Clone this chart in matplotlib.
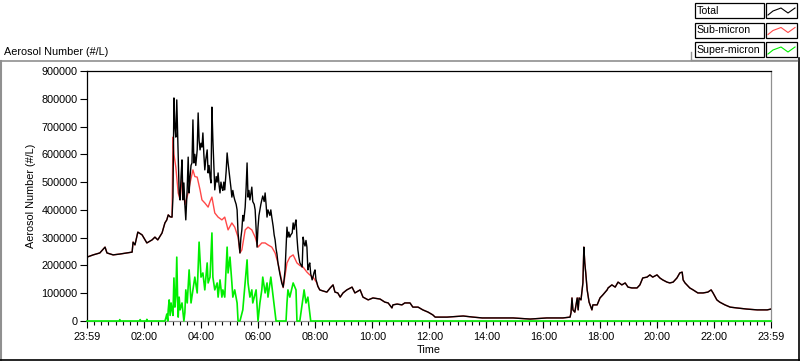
import matplotlib
matplotlib.use("Agg")
import matplotlib.pyplot as plt
from matplotlib.patches import Rectangle
from matplotlib.lines import Line2D

plt.rcParams['font.family'] = ['Liberation Sans', 'DejaVu Sans']

# ---------------- data (minutes after 23:59) ----------------
total_t = [0, 13, 27, 38, 42, 55, 69, 84, 95, 97, 101, 107, 116, 126, 137, 143, 149, 158, 164, 168,
           171, 175, 179, 181, 183, 185, 187, 189, 192, 194, 196, 198, 200, 202, 204, 206, 208, 211,
           213, 215, 217, 219, 221, 223, 225, 227, 229, 232, 234, 236, 238, 240, 242, 244, 246, 248,
           250, 253, 255, 257, 259, 261, 263, 265, 267, 269, 272, 274, 276, 278, 280, 282, 284, 286,
           288, 290, 293, 295, 297, 299, 301, 303, 305, 307, 309, 311, 314, 316, 318, 320, 322, 324,
           326, 328, 330, 333, 335, 337, 339, 341, 343, 345, 347, 349, 352, 354, 356, 358, 360, 362,
           364, 366, 368, 370, 373, 375, 377, 379, 381, 383, 385, 387, 389, 392, 394, 396, 398, 400,
           402, 406, 410, 413, 415, 417, 419, 421, 423, 425, 427, 429, 432, 434, 436, 438, 440, 442,
           444, 446, 448, 451, 453, 455, 457, 459, 461, 463, 465, 467, 469, 471, 474, 476, 478, 480,
           482, 484, 486, 490, 497, 505, 512, 518, 522, 528, 533, 539, 547, 558, 564, 575, 581, 592,
           602, 617, 627, 634, 642, 644, 653, 663, 669, 680, 686, 697, 707, 718, 728, 733, 758, 792,
           813, 832, 863, 897, 933, 968, 1002, 1017, 1019, 1021, 1023, 1027, 1032, 1034, 1036, 1040,
           1044, 1046, 1048, 1050, 1053, 1057, 1063, 1065, 1074, 1080, 1086, 1095, 1097, 1105, 1112,
           1118, 1126, 1133, 1139, 1147, 1158, 1164, 1170, 1179, 1185, 1191, 1200, 1206, 1212, 1221,
           1227, 1234, 1242, 1248, 1253, 1255, 1259, 1269, 1276, 1286, 1297, 1307, 1314, 1318, 1326,
           1332, 1343, 1354, 1368, 1389, 1411, 1432, 1440]
total_v = [230000, 238000, 245000, 266000, 245000, 238000, 241000, 245000, 248000, 284000, 274000,
           320000, 310000, 281000, 292000, 302000, 292000, 317000, 353000, 364000, 382000, 375000,
           374000, 446000, 803000, 700000, 662000, 796000, 600000, 461000, 436000, 520000, 580000,
           436000, 497000, 420000, 364000, 480000, 590000, 461000, 520000, 560000, 569000, 724000,
           569000, 600000, 560000, 616000, 749000, 650000, 616000, 640000, 626000, 677000, 600000,
           544000, 580000, 616000, 533000, 560000, 520000, 497000, 770000, 652000, 560000, 472000,
           520000, 500000, 533000, 490000, 461000, 500000, 480000, 470000, 500000, 472000, 540000,
           605000, 569000, 540000, 508000, 480000, 446000, 470000, 450000, 436000, 420000, 400000,
           317000, 280000, 245000, 300000, 328000, 380000, 360000, 410000, 480000, 569000, 446000,
           470000, 436000, 460000, 482000, 430000, 420000, 400000, 330000, 266000, 338000, 380000,
           400000, 420000, 436000, 450000, 430000, 461000, 420000, 374000, 400000, 390000, 380000,
           400000, 374000, 340000, 310000, 292000, 260000, 240000, 209000, 170000, 137000, 122000,
           150000, 184000, 260000, 338000, 302000, 320000, 302000, 310000, 317000, 353000, 330000,
           350000, 364000, 302000, 256000, 230000, 210000, 200000, 194000, 302000, 280000, 270000,
           290000, 266000, 184000, 200000, 209000, 170000, 148000, 160000, 175000, 184000, 150000,
           137000, 125000, 112000, 108000, 104000, 119000, 130000, 104000, 101000, 86000, 101000,
           112000, 122000, 101000, 112000, 86000, 76000, 83000, 79000, 68000, 65000, 47000, 58000,
           61000, 58000, 65000, 65000, 50000, 50000, 40000, 32000, 22000, 14000, 14000, 18000,
           14000, 11000, 11000, 11000, 7000, 11000, 11000, 14000, 30000, 83000, 40000, 32000,
           83000, 40000, 83000, 76000, 137000, 266000, 209000, 173000, 112000, 68000, 40000, 58000,
           58000, 83000, 94000, 112000, 119000, 130000, 122000, 140000, 130000, 137000, 122000,
           119000, 119000, 130000, 155000, 158000, 166000, 158000, 166000, 155000, 148000, 140000,
           137000, 140000, 155000, 173000, 176000, 148000, 137000, 119000, 112000, 101000, 101000,
           104000, 112000, 101000, 76000, 68000, 58000, 50000, 47000, 43000, 40000, 40000, 43000]

# sub-micron values where they differ from the total (03:00 - 08:00)
sub_busy_t = [181, 183, 187, 192, 196, 200, 206, 213, 217, 223, 227, 232, 238, 242, 248, 255, 259,
              263, 269, 276, 284, 290, 297, 305, 311, 318, 322, 326, 333, 339, 347, 354, 360, 368,
              375, 381, 389, 396, 402, 413, 421, 427, 434, 442, 448, 455, 463, 469, 476, 484, 486]
sub_busy_v = [662000, 600000, 554000, 461000, 436000, 515000, 420000, 461000, 497000, 544000,
              520000, 518000, 472000, 436000, 425000, 410000, 430000, 446000, 389000, 374000,
              364000, 374000, 328000, 353000, 338000, 302000, 245000, 256000, 328000, 338000,
              328000, 302000, 266000, 281000, 281000, 274000, 266000, 245000, 209000, 120000,
              209000, 230000, 238000, 209000, 200000, 194000, 176000, 166000, 158000, 137000,
              125000]

super_t = [0, 68, 69, 70, 110, 112, 113, 125, 126, 127, 164, 166, 168, 170, 171, 173, 175, 177,
           179, 181, 183, 185, 187, 189, 191, 192, 194, 196, 200, 204, 206, 208, 211, 215, 219, 223,
           227, 232, 236, 240, 244, 248, 253, 255, 259, 263, 265, 269, 274, 276, 280, 284, 286, 290,
           295, 297, 301, 305, 307, 311, 316, 318, 322, 328, 337, 339, 343, 347, 349, 356, 360, 364,
           368, 370, 375, 379, 381, 387, 392, 398, 419, 421, 423, 427, 434, 440, 442, 448, 455, 457,
           461, 465, 471, 1440]
super_v = [0, 0, 5000, 0, 0, 5000, 0, 0, 6000, 0, 0, 11000, 25000, 0, 40000, 76000, 20000, 65000,
           40000, 20000, 155000, 50000, 90000, 230000, 60000, 14000, 86000, 40000, 65000, 0, 30000,
           112000, 65000, 184000, 65000, 112000, 158000, 101000, 284000, 158000, 173000, 112000,
           209000, 137000, 158000, 317000, 158000, 112000, 137000, 86000, 148000, 86000, 112000,
           86000, 266000, 173000, 230000, 137000, 86000, 112000, 65000, 0, 0, 40000, 220000, 137000,
           86000, 112000, 65000, 112000, 0, 65000, 112000, 158000, 101000, 137000, 86000, 158000,
           86000, 0, 0, 65000, 112000, 86000, 137000, 112000, 0, 0, 86000, 112000, 65000, 86000, 0,
           0]

tick_minutes = [0, 121, 241, 361, 481, 601, 721, 841, 961, 1081, 1201, 1321, 1440]
tick_labels = ["23:59", "02:00", "04:00", "06:00", "08:00", "10:00", "12:00", "14:00",
               "16:00", "18:00", "20:00", "22:00", "23:59"]
y_ticks = [0, 100000, 200000, 300000, 400000, 500000, 600000, 700000, 800000, 900000]
series_names = ["Total", "Sub-micron", "Super-micron"]
series_colors = ["#000000", "#ff4848", "#00ee00"]

# build sub-micron series: equal to total outside the busy window
t0, t1 = sub_busy_t[0], sub_busy_t[-1]
sub_t = [t for t in total_t if t < t0] + sub_busy_t + [t for t in total_t if t > t1]
sub_v = ([v for t, v in zip(total_t, total_v) if t < t0] + sub_busy_v +
         [v for t, v in zip(total_t, total_v) if t > t1])

# ---------------- figure ----------------
W, H = 800, 361
fig = plt.figure(figsize=(W / 100, H / 100), dpi=100)
fig.patch.set_facecolor("white")

L, R, T, B = 87, 771, 71, 321
ax = fig.add_axes([L / W, 1 - B / H, (R - L) / W, (B - T) / H])
lw = 1.0
ax.plot(sub_t, sub_v, color=series_colors[1], lw=lw, zorder=2)
ax.plot(total_t, total_v, color=series_colors[0], lw=lw, zorder=3)
ax.plot(super_t, super_v, color=series_colors[2], lw=1.2, zorder=4, clip_on=False)
ax.set_xlim(0, 1440)
ax.set_ylim(0, 900000)

fs = 7.8
ax.set_yticks(y_ticks)
ax.set_yticklabels([str(v) for v in y_ticks], fontsize=fs)
ax.set_xticks(tick_minutes)
ax.set_xticklabels(tick_labels, fontsize=fs)
ax.set_xticks(list(range(15, 1440, 15)), minor=True)
ax.tick_params(axis="y", length=5, width=0.8, pad=2, direction="out")
ax.tick_params(axis="x", which="major", length=5, width=0.8, pad=3, direction="out")
ax.tick_params(axis="x", which="minor", length=3, width=0.8, direction="out")
for side in ["top", "left"]:
    ax.spines[side].set_color("black")
    ax.spines[side].set_linewidth(0.9)
for side in ["right", "bottom"]:
    ax.spines[side].set_color("#909090")
    ax.spines[side].set_linewidth(0.9)
ax.set_xlabel("Time", fontsize=fs, labelpad=2)
ax.set_ylabel("Aerosol Number (#/L)", fontsize=fs, labelpad=4)

# ---------------- overlay for panel / legend decoration ----------------
ov = fig.add_axes([0, 0, 1, 1], zorder=-1)
ov.set_xlim(0, W)
ov.set_ylim(H, 0)
ov.axis("off")
ov.add_line(Line2D([0, 797], [61, 61], color="#909090", lw=1.2))
ov.add_line(Line2D([1, 1], [61, 360], color="#909090", lw=1.5))
ov.add_line(Line2D([0, 800], [359.5, 359.5], color="black", lw=1.2))
ov.add_line(Line2D([798.5, 798.5], [58, 360], color="black", lw=1.2))
ov.add_line(Line2D([691, 691], [52, 60], color="#909090", lw=1.0))
ov.add_line(Line2D([691, 797], [59.5, 59.5], color="#909090", lw=1.0))

ov.text(4, 52, "Aerosol Number (#/L)", fontsize=fs, ha="left", va="center")

ov2 = fig.add_axes([0, 0, 1, 1], zorder=5)
ov2.set_xlim(0, W)
ov2.set_ylim(H, 0)
ov2.axis("off")
row_tops = [3, 22.5, 42]
for name, col, y0 in zip(series_names, series_colors, row_tops):
    ov2.add_patch(Rectangle((694.5, y0), 69, 15, fill=True, facecolor="white",
                            edgecolor="black", lw=0.9))
    ov2.text(696.5, y0 + 7.8, name, fontsize=7.6, ha="left", va="center")
    ov2.add_patch(Rectangle((765.5, y0), 31, 15, fill=True, facecolor="white",
                            edgecolor="black", lw=0.9))
    ov2.add_line(Line2D([768, 773, 781, 788, 795],
                        [y0 + 12, y0 + 8, y0 + 5, y0 + 10, y0 + 5], color=col, lw=0.8))

fig.savefig("out.png", dpi=100)
